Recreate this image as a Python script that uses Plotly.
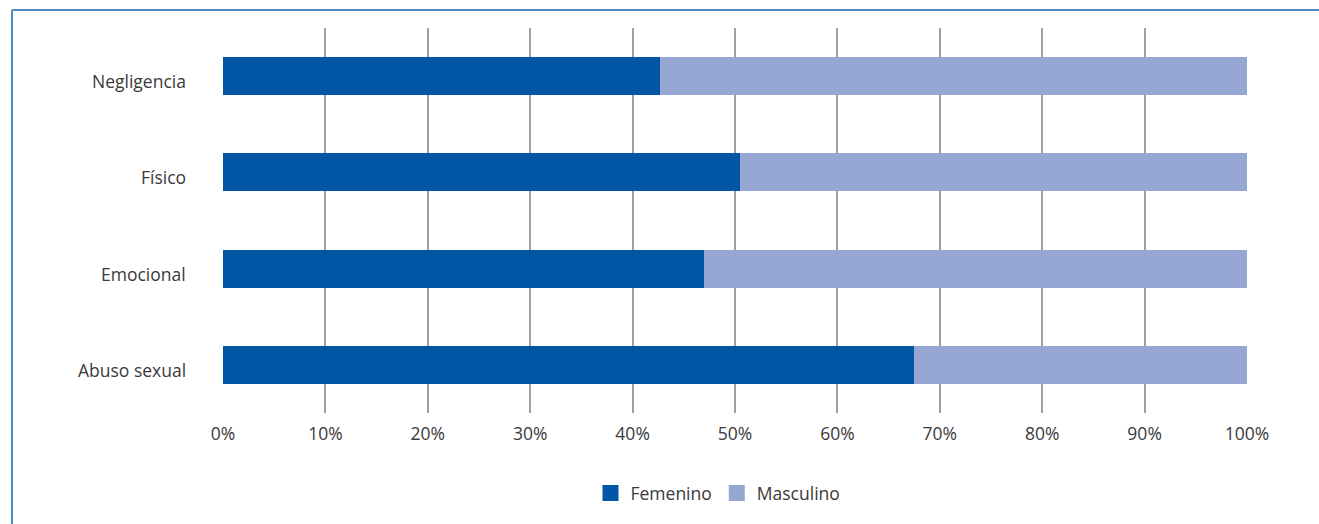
import plotly.graph_objects as go

categories = ["Negligencia", "Físico", "Emocional", "Abuso sexual"]
femenino = [42.7, 50.5, 47.0, 67.5]
masculino = [57.3, 49.5, 53.0, 32.5]
series_names = ["Femenino", "Masculino"]
colors = ["#0055a5", "#97a7d4"]

W, H = 1319, 524
L, R, T, B = 223, 72, 28, 111
pw, ph = W - L - R, H - T - B

def px_x(x):
    return (x - L) / pw

def px_y(y):
    return 1 - (y - T) / ph

font = "Open Sans, Noto Sans, sans-serif"
txt = "#3a3a3a"
fs = 17.5

fig = go.Figure()
for vals, name, col in zip([femenino, masculino], series_names, colors):
    fig.add_trace(go.Bar(y=categories, x=vals, name=name, orientation="h",
                         marker=dict(color=col, line=dict(width=0)),
                         showlegend=False))
# legend entries with larger square symbols
for name, col in zip(series_names, colors):
    fig.add_trace(go.Scatter(x=[None], y=[None], mode="markers", name=name,
                             marker=dict(symbol="square", size=16, color=col),
                             showlegend=True))

frame_color = "#4f8cc6"
fig.add_shape(type="line", xref="paper", yref="paper",
              x0=px_x(12), x1=px_x(W + 5), y0=px_y(10), y1=px_y(10),
              line=dict(color=frame_color, width=2))
fig.add_shape(type="line", xref="paper", yref="paper",
              x0=px_x(12), x1=px_x(12), y0=px_y(10), y1=px_y(H + 5),
              line=dict(color=frame_color, width=2))

for c in categories:
    fig.add_annotation(x=px_x(188), xref="paper", y=c, yref="y",
                       text=c, showarrow=False, xanchor="right",
                       yanchor="middle", yshift=-5,
                       font=dict(family=font, size=fs, color=txt))

fig.update_layout(
    width=W, height=H,
    margin=dict(l=L, r=R, t=T, b=B),
    barmode="stack",
    bargap=0.605,
    plot_bgcolor="white",
    paper_bgcolor="white",
    font=dict(family=font, size=fs, color=txt),
    xaxis=dict(range=[0, 100], dtick=10, ticksuffix="%", showgrid=True,
               gridcolor="#a0a0a0", gridwidth=1.5, zeroline=False,
               showline=False, ticks="", ticklabelstandoff=8,
               tickfont=dict(size=fs, color=txt)),
    yaxis=dict(autorange="reversed", showgrid=False, zeroline=False,
               showline=False, ticks="", showticklabels=False),
    legend=dict(orientation="h", x=px_x(718), xanchor="center",
                y=px_y(493), yanchor="middle",
                font=dict(size=fs, color=txt),
                itemwidth=30, traceorder="normal"),
    showlegend=True,
)

fig.write_html("out.html")
